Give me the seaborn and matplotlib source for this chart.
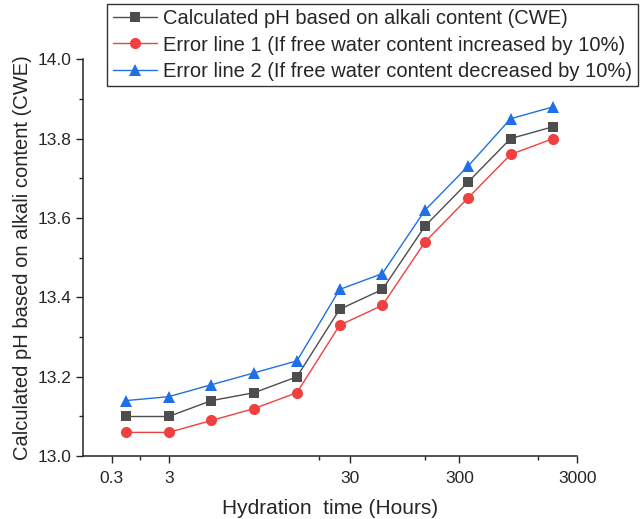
import matplotlib
matplotlib.use("Agg")
import matplotlib.pyplot as plt
import seaborn as sns
import pandas as pd

# ========================================================================
# DATA
# ========================================================================
# points are evenly spaced along the axis, positions 1..11
point_pos = [1, 2, 3, 4, 5, 6, 7, 8, 9, 10, 11]
ph_cwe = [13.10, 13.10, 13.14, 13.16, 13.20, 13.37, 13.42, 13.58, 13.69, 13.80, 13.83]
ph_err1 = [13.06, 13.06, 13.09, 13.12, 13.16, 13.33, 13.38, 13.54, 13.65, 13.76, 13.80]
ph_err2 = [13.14, 13.15, 13.18, 13.21, 13.24, 13.42, 13.46, 13.62, 13.73, 13.85, 13.88]

# x tick labels of the original (custom placed)
xtick_pos = [0.67, 2.01, 6.25, 8.80, 11.56]
xtick_labels = ["0.3", "3", "30", "300", "3000"]
xminor_pos = [1.33, 5.52, 8.0, 10.65]

labels = ["Calculated pH based on alkali content (CWE)",
          "Error line 1 (If free water content increased by 10%)",
          "Error line 2 (If free water content decreased by 10%)"]
colors = ["#4d4d4d", "#f04040", "#1f6fe5"]
markers = ["s", "o", "^"]
msizes = [7, 8, 8.5]

# ========================================================================
# FIGURE
# ========================================================================
sns.set_style("ticks")
plt.rcParams["font.family"] = ["Liberation Sans", "DejaVu Sans"]

fig = plt.figure(figsize=(6.4, 5.19), dpi=100)
ax = fig.add_axes([0.130, 0.121, 0.772, 0.765])

for vals, lab, col, mk, ms in zip([ph_cwe, ph_err1, ph_err2], labels, colors, markers, msizes):
    df = pd.DataFrame({"x": point_pos, "pH": vals})
    sns.lineplot(data=df, x="x", y="pH", ax=ax, color=col, marker=mk,
                 markersize=ms, markeredgewidth=0, linewidth=1.0, label=lab)

# AXES
ax.set_xlim(0, 11.56)
ax.set_ylim(13.0, 14.0)
ax.set_xticks(xtick_pos)
ax.set_xticklabels(xtick_labels)
ax.set_xticks(xminor_pos, minor=True)
ax.set_yticks([13.0, 13.2, 13.4, 13.6, 13.8, 14.0])
ax.set_yticks([13.1, 13.3, 13.5, 13.7, 13.9], minor=True)
ax.yaxis.set_major_formatter(matplotlib.ticker.FormatStrFormatter("%.1f"))
ax.tick_params(axis="both", which="major", direction="out", length=5, width=1.0, labelsize=12.5)
ax.tick_params(axis="x", which="major", pad=6)
ax.tick_params(axis="both", which="minor", direction="out", length=3, width=1.0)
for side in ["left", "bottom"]:
    ax.spines[side].set_linewidth(1.1)
sns.despine(ax=ax)

ax.set_xlabel("Hydration  time (Hours)", fontsize=15, labelpad=9)
ax.set_ylabel("Calculated pH based on alkali content (CWE)", fontsize=14.5, labelpad=4)

# LEGEND
leg = ax.legend(loc="upper left", bbox_to_anchor=(0.167, 0.993), bbox_transform=fig.transFigure,
                fontsize=14.5, frameon=True, fancybox=False, borderaxespad=0,
                handlelength=2.2, handletextpad=0.3, labelspacing=0.36, borderpad=0.28)
leg.get_frame().set_edgecolor("black")
leg.get_frame().set_linewidth(1.0)

plt.savefig("out.png", dpi=100)
print("done")
